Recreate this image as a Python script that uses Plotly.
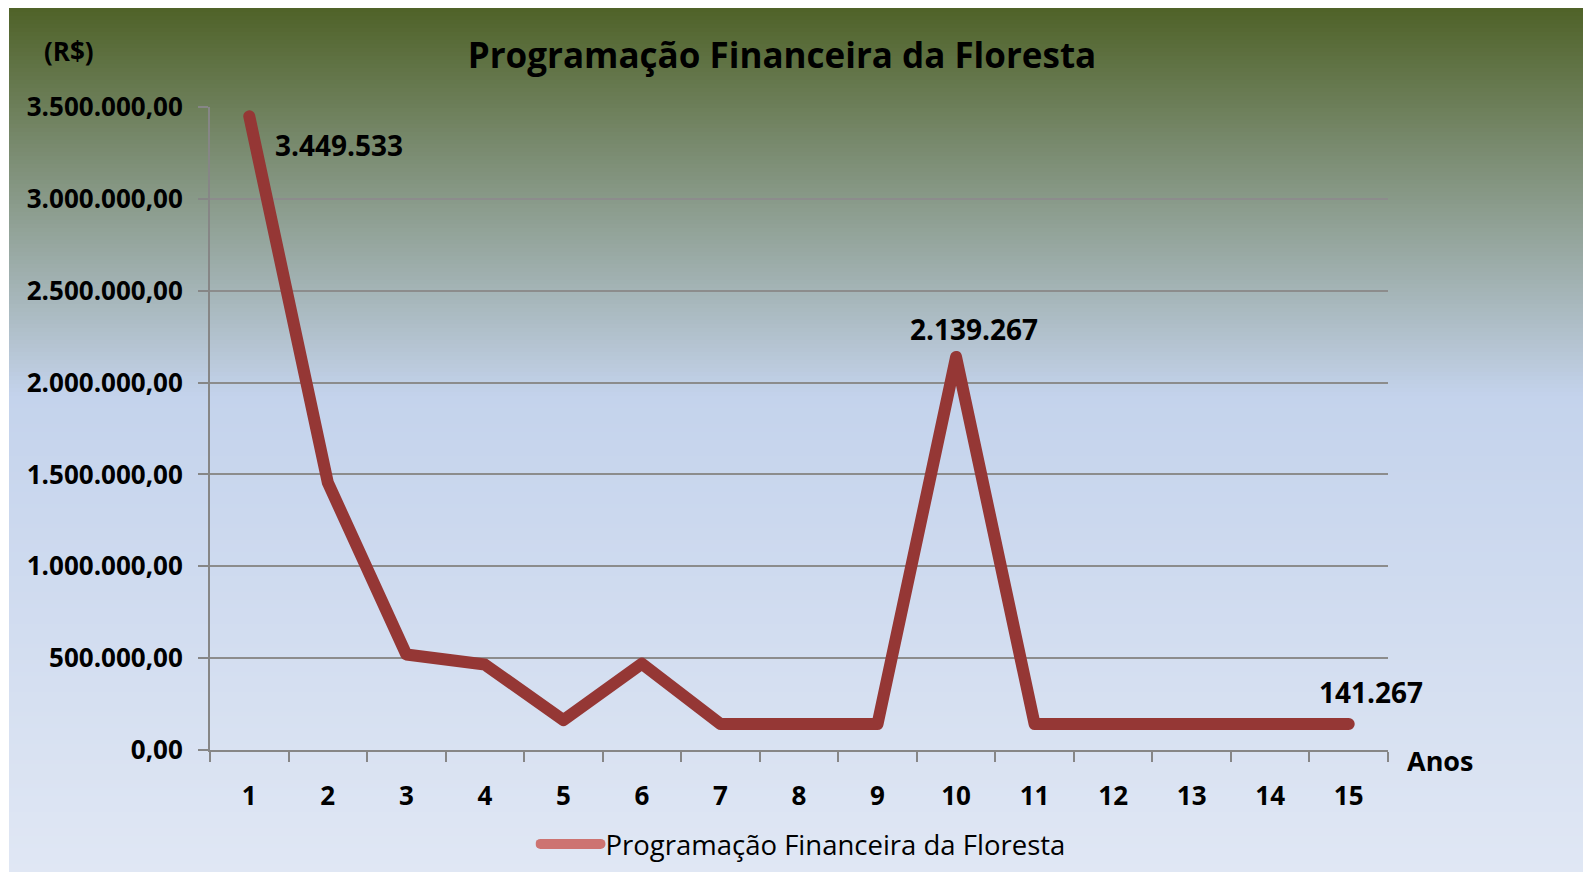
import plotly.graph_objects as go

# ---------------- data ----------------
anos = [str(i) for i in range(1, 16)]
valores = [3449533, 1456000, 520000, 465000, 163000, 470000, 141267, 141267,
           141267, 2139267, 141267, 141267, 141267, 141267, 141267]
serie_nome = "Programação Financeira da Floresta"
titulo = "Programação Financeira da Floresta"
y_ticks = [0, 500000, 1000000, 1500000, 2000000, 2500000, 3000000, 3500000]
rotulos_idx = [0, 9, 14]          # points that carry a data label

# ---------------- layout geometry (pixels) ----------------
W, H = 1583, 872
L, R, T, B = 210, 1388, 107, 750
pw, ph = R - L, B - T


def px2paper_x(px):
    return (px - L) / pw


def px2paper_y(py):
    return (B - py) / ph


def fmt(v):
    return f"{v:,.0f}".replace(",", ".")


LINE_COLOR = "#953735"
FONT = "Open Sans"

fig = go.Figure()

fig.add_trace(go.Scatter(
    x=anos, y=valores, mode="lines",
    line=dict(color=LINE_COLOR, width=12),
    showlegend=False, name=serie_nome,
))
# legend entry (lighter rendering as in the original legend)
fig.add_trace(go.Scatter(
    x=[None], y=[None], mode="lines",
    line=dict(color="#cd7371", width=10),
    name=serie_nome, showlegend=True,
))

# ---------------- gradient background via strips ----------------
stops = [(0.0, (79, 98, 40)), (0.45, (196, 211, 236)), (1.0, (224, 231, 244))]


def grad(t):
    for (t0, c0), (t1, c1) in zip(stops[:-1], stops[1:]):
        if t <= t1:
            f = (t - t0) / (t1 - t0)
            return tuple(round(a + (b - a) * f) for a, b in zip(c0, c1))
    return stops[-1][1]


bg_top, bg_bot, bg_left, bg_right = 8, 872, 9, 1583
n = 216
step = (bg_bot - bg_top) / n
shapes = []
for i in range(n):
    y0 = bg_top + i * step
    y1 = y0 + step + 0.8
    c = grad((i + 0.5) / n)
    shapes.append(dict(
        type="rect", xref="paper", yref="paper", layer="below",
        x0=px2paper_x(bg_left), x1=px2paper_x(bg_right),
        y0=px2paper_y(min(y1, bg_bot)), y1=px2paper_y(y0),
        fillcolor=f"rgb{c}", line=dict(width=0),
    ))

# ---------------- annotations ----------------
annotations = []
shifts = {0: (90, -29), 9: (18, 28), 14: (22, 32)}
for i in rotulos_idx:
    dx, dy = shifts[i]
    annotations.append(dict(
        x=i, y=valores[i], xref="x", yref="y", text=fmt(valores[i]),
        showarrow=False, xshift=dx, yshift=dy,
        xanchor="center", yanchor="middle",
        font=dict(family=FONT, size=28, color="black", weight="bold"),
    ))
annotations.append(dict(
    x=px2paper_x(69), y=px2paper_y(51), xref="paper", yref="paper",
    text="(R$)", showarrow=False, xanchor="center", yanchor="middle",
    font=dict(family=FONT, size=26, color="black", weight="bold"),
))
annotations.append(dict(
    x=px2paper_x(1440), y=px2paper_y(760), xref="paper", yref="paper",
    text="Anos", showarrow=False, xanchor="center", yanchor="middle",
    font=dict(family=FONT, size=27, color="black", weight="bold"),
))

fig.update_layout(
    width=W, height=H,
    margin=dict(l=L, r=W - R, t=T, b=H - B, autoexpand=False),
    paper_bgcolor="white",
    plot_bgcolor="rgba(0,0,0,0)",
    separators=",.",
    title=dict(
        text=titulo, x=782 / W, xanchor="center", xref="container",
        y=1 - 56 / H, yanchor="middle", yref="container",
        font=dict(family=FONT, size=35, color="black", weight="bold"),
    ),
    shapes=shapes,
    annotations=annotations,
    showlegend=True,
    legend=dict(
        orientation="h", x=803 / W, xanchor="center", xref="container",
        y=1 - 844 / H, yanchor="middle", yref="container",
        font=dict(family=FONT, size=27.5, color="black"),
        bgcolor="rgba(0,0,0,0)", itemwidth=60,
    ),
    xaxis=dict(
        type="category", range=[-0.5, 14.5], automargin=False,
        tickson="boundaries", ticks="outside", ticklen=10, tickwidth=2,
        tickcolor="#868686", showline=True, linecolor="#868686", linewidth=2,
        showgrid=False, ticklabelstandoff=22,
        tickfont=dict(family=FONT, size=26, color="black", weight="bold"),
    ),
    yaxis=dict(
        range=[0, 3500000], tickvals=y_ticks, tickformat=",.2f",
        automargin=False,
        ticks="outside", ticklen=10, tickwidth=2, tickcolor="#868686",
        showline=True, linecolor="#868686", linewidth=2,
        showgrid=True, gridcolor="#8c8c8c", gridwidth=1.5,
        zeroline=False, ticklabelstandoff=10,
        tickfont=dict(family=FONT, size=26, color="black", weight="bold"),
    ),
)

post = (
    "document.body.style.margin='0';document.body.style.overflow='hidden';"
    "var s=document.createElement('style');"
    "s.textContent='.scatterlayer .js-line, .legend .js-line"
    "{stroke-linejoin:round !important;stroke-linecap:round !important;}';"
    "document.head.appendChild(s);"
)

fig.write_html(
    "out.html",
    config={"displayModeBar": False},
    post_script=post,
)
